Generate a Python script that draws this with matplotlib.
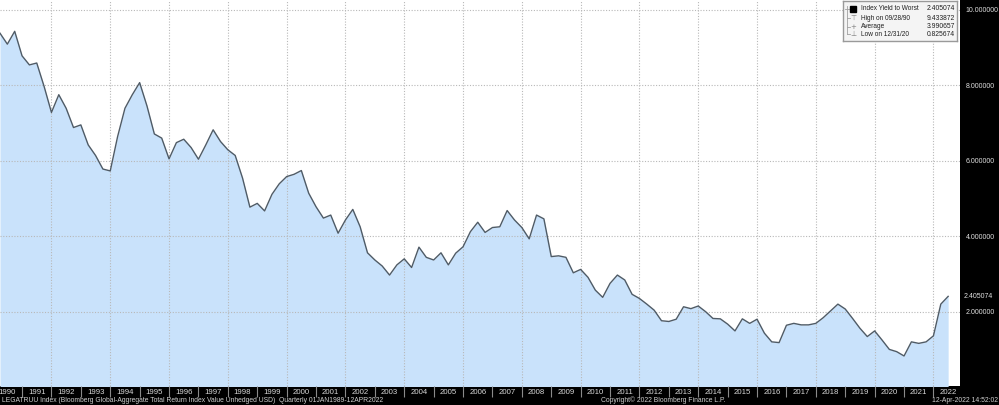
import matplotlib.pyplot as plt
import matplotlib.ticker as mticker
import numpy as np

# quarterly index yield to worst, from 1990 Q1 to 2022 Q2 (partial)
start_year = 1990.25
yield_to_worst = [
    9.38, 9.09, 9.43, 8.78, 8.54, 8.59, 7.97, 7.28, 7.75, 7.39,
    6.88, 6.95, 6.42, 6.14, 5.78, 5.73, 6.64, 7.39, 7.75, 8.07,
    7.45, 6.71, 6.60, 6.05, 6.48, 6.57, 6.35, 6.04, 6.42, 6.82,
    6.51, 6.29, 6.14, 5.54, 4.77, 4.87, 4.67, 5.11, 5.39, 5.58,
    5.64, 5.74, 5.14, 4.78, 4.48, 4.56, 4.08, 4.43, 4.71, 4.25,
    3.56, 3.37, 3.21, 2.97, 3.24, 3.40, 3.17, 3.71, 3.44, 3.37,
    3.56, 3.24, 3.55, 3.72, 4.12, 4.37, 4.10, 4.23, 4.25, 4.68,
    4.43, 4.23, 3.93, 4.56, 4.46, 3.46, 3.48, 3.44, 3.03, 3.12,
    2.91, 2.57, 2.38, 2.75, 2.97, 2.84, 2.46, 2.35, 2.20, 2.04,
    1.76, 1.74, 1.80, 2.13, 2.08, 2.15, 2.00, 1.82, 1.81, 1.67,
    1.49, 1.81, 1.69, 1.80, 1.43, 1.20, 1.18, 1.64, 1.69, 1.65,
    1.65, 1.69, 1.84, 2.02, 2.20, 2.07, 1.82, 1.56, 1.34, 1.49,
    1.25, 1.00, 0.94, 0.826, 1.20, 1.16, 1.20, 1.36, 2.20, 2.405074,
]
years = list(range(1990, 2023))
y_ticks = [2, 4, 6, 8, 10]

legend_labels = ['Index Yield to Worst', 'High on 09/28/90', 'Average', 'Low on 12/31/20']
legend_values = [2.405074, 9.433872, 3.990657, 0.825674]
legend_marks = ['', '\u22a4', '+', '\u22a5']

footer_left = ('LEGATRUU Index (Bloomberg Global-Aggregate Total Return Index Value Unhedged USD)'
               '  Quarterly 01JAN1989-12APR2022')
footer_mid = 'Copyright\u00a9 2022 Bloomberg Finance L.P.'
footer_right = '12-Apr-2022 14:52:02'

plt.rcParams['font.family'] = ['Liberation Sans', 'DejaVu Sans']

x = start_year + 0.25 * np.arange(len(yield_to_worst))

fig = plt.figure(figsize=(9.99, 4.05), dpi=100, facecolor='black')
ax = fig.add_axes([0, 19 / 405, 960 / 999, 386 / 405])
ax.set_facecolor('white')

grid_style = dict(color='#b8b8b8', lw=0.8, ls=(0, (1, 1.5)))
ax.fill_between(x, 0, yield_to_worst, color='#c9e2fb', lw=0, zorder=1)
ax.plot(x, yield_to_worst, color='#4f5b66', lw=1.0, zorder=4)
for yr in years:
    if yr % 2 == 0:
        ax.axvline(yr, zorder=2, **grid_style)
for yv in y_ticks:
    ax.axhline(yv, zorder=2, **grid_style)

for s in ax.spines.values():
    s.set_visible(False)

# year separators (major) and year labels (minor, centred in each year)
ax.set_xticks(years)
ax.set_xticks([yr + 0.5 for yr in years], minor=True)
ax.set_xticklabels([])
ax.set_xticklabels([str(yr) for yr in years], minor=True)
ax.tick_params(axis='x', which='major', length=8, width=0.8, color='#8a8a8a', direction='out')
ax.tick_params(axis='x', which='minor', length=0, pad=2, labelsize=5.6, labelcolor='#d8d8d8')

ax.yaxis.tick_right()
ax.set_yticks(y_ticks)
ax.yaxis.set_major_formatter(mticker.FormatStrFormatter('%.6f'))
ax.tick_params(axis='y', length=0, pad=4, labelsize=5.0, labelcolor='#e0e0e0')

# limits set after the ticks so they are not widened
ax.set_xlim(start_year, start_year + 960 / 29.4)
ax.set_ylim(0.03, 10.26)

ax.annotate(f'{yield_to_worst[-1]:.6f}', xy=(1.0, yield_to_worst[-1]),
            xycoords=('axes fraction', 'data'), xytext=(2.3, 0), textcoords='offset points',
            ha='left', va='center', fontsize=5.0, color='#e0e0e0', annotation_clip=False)

# legend box in the top right corner
leg = fig.add_axes([843 / 999, 1 - 41 / 405, 114 / 999, 40 / 405])
leg.set_facecolor('#f4f4f4')
leg.set_xlim(0, 1)
leg.set_ylim(0, 1)
leg.set_xticks([])
leg.set_yticks([])
for s in leg.spines.values():
    s.set_color('#9a9a9a')
    s.set_linewidth(1.0)
rows = [0.80, 0.57, 0.36, 0.17]
leg.plot([0.035, 0.035], [rows[0] + 0.08, rows[-1]], color='#a0a0a0', lw=0.6)
leg.plot([0.02, 0.05], [rows[0], rows[0]], color='#a0a0a0', lw=0.6)
leg.plot([0.088], [rows[0]], marker='s', ms=4.2, color='black')
for r, lab, val, mk in zip(rows, legend_labels, legend_values, legend_marks):
    if mk:
        leg.plot([0.035, 0.06], [r, r], color='#a0a0a0', lw=0.6)
        leg.text(0.088, r, mk, ha='center', va='center', fontsize=5, color='#808080',
                 family=['DejaVu Sans'])
    leg.text(0.158, r, lab, ha='left', va='center', fontsize=4.7, color='#202020')
    leg.text(0.985, r, f'{val:.6f}', ha='right', va='center', fontsize=4.9, color='#202020')

fig.text(2 / 999, 4.5 / 405, footer_left, ha='left', va='center', fontsize=4.9, color='#d0d0d0')
fig.text(663 / 999, 4.5 / 405, footer_mid, ha='center', va='center', fontsize=4.9, color='#d0d0d0')
fig.text(998 / 999, 4.5 / 405, footer_right, ha='right', va='center', fontsize=4.9, color='#d0d0d0')

fig.savefig('out.png', dpi=100, facecolor='black')
